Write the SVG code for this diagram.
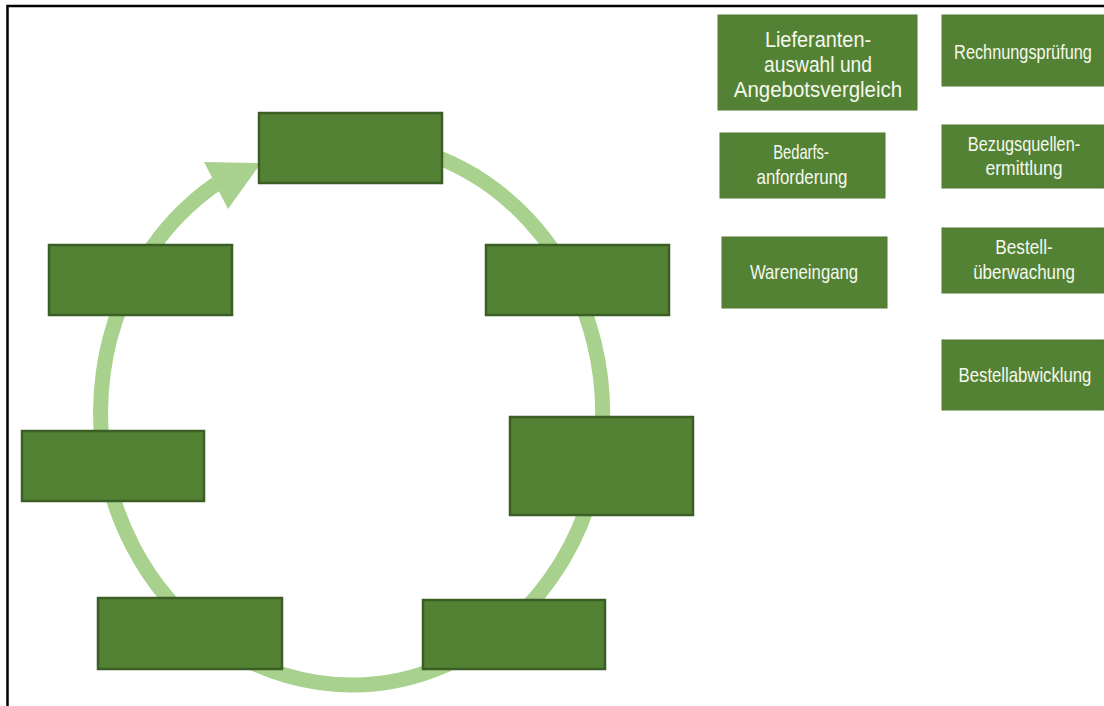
<svg xmlns="http://www.w3.org/2000/svg" width="1104" height="706" viewBox="0 0 1104 706">
  <style>
    .slot { fill: #548235; stroke: #3b5e25; stroke-width: 2.5; }
    .term { fill: #548235; stroke: #4f7b31; stroke-width: 1; }
    .lbl { fill: #f4f8ee; font-family: "Liberation Sans", "Open Sans", sans-serif; text-anchor: middle; }
    .big { font-size: 21.5px; }
    .sm { font-size: 20px; }
    .ring { fill: none; stroke: #a9d18e; stroke-width: 15; }
    .head { fill: #a9d18e; }
  </style>
  <rect x="0" y="0" width="1104" height="706" fill="#ffffff"/>
  <!-- frame -->
  <path d="M7.5 706 V6 H1104" fill="none" stroke="#000000" stroke-width="2.5"/>

  <!-- cycle ring with arrowhead -->
  <g id="connectors">
    <path class="ring" d="M216 184 A251 272 0 1 0 300 146.7"/>
    <polygon class="head" points="204,162 261,163 228,209"/>
  </g>

  <!-- empty slots of the cycle -->
  <g id="slot-top"><rect class="slot" x="259" y="113" width="183" height="70"/></g>
  <g id="slot-right-upper"><rect class="slot" x="486" y="245" width="183" height="70"/></g>
  <g id="slot-right-middle"><rect class="slot" x="510" y="417" width="183" height="98"/></g>
  <g id="slot-bottom-right"><rect class="slot" x="423" y="600" width="182" height="69"/></g>
  <g id="slot-bottom-left"><rect class="slot" x="98" y="598" width="184" height="71"/></g>
  <g id="slot-left-middle"><rect class="slot" x="22" y="431" width="182" height="70"/></g>
  <g id="slot-left-upper"><rect class="slot" x="49" y="245" width="183" height="70"/></g>

  <!-- term cards (labels are narrowed horizontally) -->
  <g id="term-lieferantenauswahl">
    <rect class="term" x="718" y="15" width="199" height="95"/>
    <text class="lbl big" transform="translate(818 47) scale(0.85 1)" textLength="125" lengthAdjust="spacingAndGlyphs">Lieferanten-</text>
    <text class="lbl big" transform="translate(818 72) scale(0.85 1)" textLength="127" lengthAdjust="spacingAndGlyphs">auswahl und</text>
    <text class="lbl big" transform="translate(818 97) scale(0.85 1)" textLength="198" lengthAdjust="spacingAndGlyphs">Angebotsvergleich</text>
  </g>
  <g id="term-rechnungspruefung">
    <rect class="term" x="942" y="15" width="162" height="71"/>
    <text class="lbl sm" transform="translate(1023 59) scale(0.82 1)" textLength="168" lengthAdjust="spacingAndGlyphs">Rechnungsprüfung</text>
  </g>
  <g id="term-bedarfsanforderung">
    <rect class="term" x="720" y="133" width="165" height="65"/>
    <text class="lbl sm" transform="translate(801 159) scale(0.82 1)" textLength="68" lengthAdjust="spacingAndGlyphs">Bedarfs-</text>
    <text class="lbl sm" transform="translate(802 184) scale(0.82 1)" textLength="111" lengthAdjust="spacingAndGlyphs">anforderung</text>
  </g>
  <g id="term-bezugsquellenermittlung">
    <rect class="term" x="942" y="125" width="162" height="63"/>
    <text class="lbl sm" transform="translate(1024 151) scale(0.82 1)" textLength="137" lengthAdjust="spacingAndGlyphs">Bezugsquellen-</text>
    <text class="lbl sm" transform="translate(1024 175) scale(0.82 1)" textLength="94" lengthAdjust="spacingAndGlyphs">ermittlung</text>
  </g>
  <g id="term-wareneingang">
    <rect class="term" x="722" y="237" width="165" height="71"/>
    <text class="lbl sm" transform="translate(804 279) scale(0.82 1)" textLength="132" lengthAdjust="spacingAndGlyphs">Wareneingang</text>
  </g>
  <g id="term-bestellueberwachung">
    <rect class="term" x="942" y="228" width="162" height="65"/>
    <text class="lbl sm" transform="translate(1024 254) scale(0.82 1)" textLength="70" lengthAdjust="spacingAndGlyphs">Bestell-</text>
    <text class="lbl sm" transform="translate(1024 279) scale(0.82 1)" textLength="124" lengthAdjust="spacingAndGlyphs">überwachung</text>
  </g>
  <g id="term-bestellabwicklung">
    <rect class="term" x="942" y="340" width="162" height="70"/>
    <text class="lbl sm" transform="translate(1025 382) scale(0.82 1)" textLength="162" lengthAdjust="spacingAndGlyphs">Bestellabwicklung</text>
  </g>
</svg>
